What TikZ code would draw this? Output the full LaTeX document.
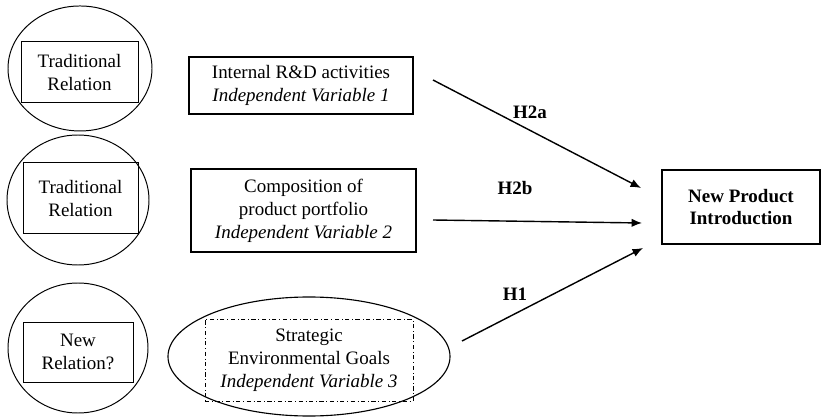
\documentclass[tikz,border=0pt]{standalone}
\usepackage{fontspec}
\setmainfont{Liberation Serif}
\usetikzlibrary{shapes.geometric,arrows.meta}

\begin{document}
\begin{tikzpicture}[scale=1,
  font=\fontsize{13.5}{16.3}\selectfont,
  >={Latex[length=2.6mm,width=2.1mm]},
  relation-circle/.style={draw,ellipse,inner sep=0,line width=0.7pt},
  relation-box/.style={draw,rectangle,inner sep=0,line width=0.7pt,align=center},
  variable-box/.style={draw,rectangle,inner sep=0,line width=0.8pt,align=center},
  hypothesis-arrow/.style={->,line width=1pt},
  hypothesis/.style={font=\fontsize{13.5}{16.3}\selectfont\bfseries}]

\useasboundingbox (0,0) rectangle (20.525,10.475);

\coordinate (traditional-one) at (2.0,8.763);
\coordinate (traditional-two) at (1.95,5.475);
\coordinate (new-relation) at (1.95,1.775);

\coordinate (traditional-one-box) at (1.988,8.663);
\coordinate (traditional-two-box) at (2.013,5.513);
\coordinate (new-relation-box) at (1.95,1.675);

\coordinate (rd-activities) at (7.525,8.338);
\coordinate (product-portfolio) at (7.588,5.213);
\coordinate (environmental-goals) at (7.725,1.5625);
\coordinate (environmental-goals-box) at (7.725,1.475);
\coordinate (product-introduction) at (18.525,5.3);

\coordinate (h2a-start) at (10.825,8.475);
\coordinate (h2a-end) at (16.025,5.775);
\coordinate (h2b-start) at (10.825,4.975);
\coordinate (h2b-end) at (16.05,4.9);
\coordinate (h1-start) at (11.55,1.95);
\coordinate (h1-end) at (16.075,4.275);

% relations on the left
\node [relation-circle,minimum width=3.6cm,minimum height=3.125cm] (traditional-one-circle) at (traditional-one) {};
\node [relation-box,minimum width=2.925cm,minimum height=1.525cm] (traditional-one-label) at (traditional-one-box) {Traditional\\Relation};

\node [relation-circle,minimum width=3.55cm,minimum height=3.25cm] (traditional-two-circle) at (traditional-two) {};
\node [relation-box,minimum width=2.875cm,minimum height=1.775cm] (traditional-two-label) at (traditional-two-box) {Traditional\\Relation};

\node [relation-circle,minimum width=3.5cm,minimum height=3.25cm] (new-relation-circle) at (new-relation) {};
\node [relation-box,minimum width=2.75cm,minimum height=1.5cm] (new-relation-label) at (new-relation-box) {New\\Relation?};

% independent variables
\node [variable-box,minimum width=5.6cm,minimum height=1.425cm] (rd-activities-box) at (rd-activities) {Internal R\&D activities\\\emph{Independent Variable 1}};
\node [variable-box,minimum width=5.625cm,minimum height=2.075cm] (product-portfolio-box) at (product-portfolio) {Composition of\\product portfolio\\\emph{Independent Variable 2}};
\node [relation-circle,line width=0.8pt,minimum width=7.05cm,minimum height=2.975cm] (environmental-goals-ellipse) at (environmental-goals) {};
\node [draw,dash dot,inner sep=0,line width=0.6pt,align=center,minimum width=5.2cm,minimum height=2.05cm] (environmental-goals-box) at (environmental-goals-box) {Strategic\\Environmental Goals\\\emph{Independent Variable 3}};

% dependent variable
\node [draw,rectangle,line width=1.9pt,inner sep=0,align=center,minimum width=3.95cm,minimum height=1.85cm,hypothesis] (product-introduction-box) at (product-introduction) {New Product\\Introduction};

\draw [hypothesis-arrow] (h2a-start) -- (h2a-end);
\draw [hypothesis-arrow] (h2b-start) -- (h2b-end);
\draw [hypothesis-arrow] (h1-start) -- (h1-end);

\node [hypothesis] (h2a) at (13.25,7.675) {H2a};
\node [hypothesis] (h2b) at (12.875,5.775) {H2b};
\node [hypothesis] (h1) at (12.875,3.125) {H1};

\end{tikzpicture}
\end{document}
